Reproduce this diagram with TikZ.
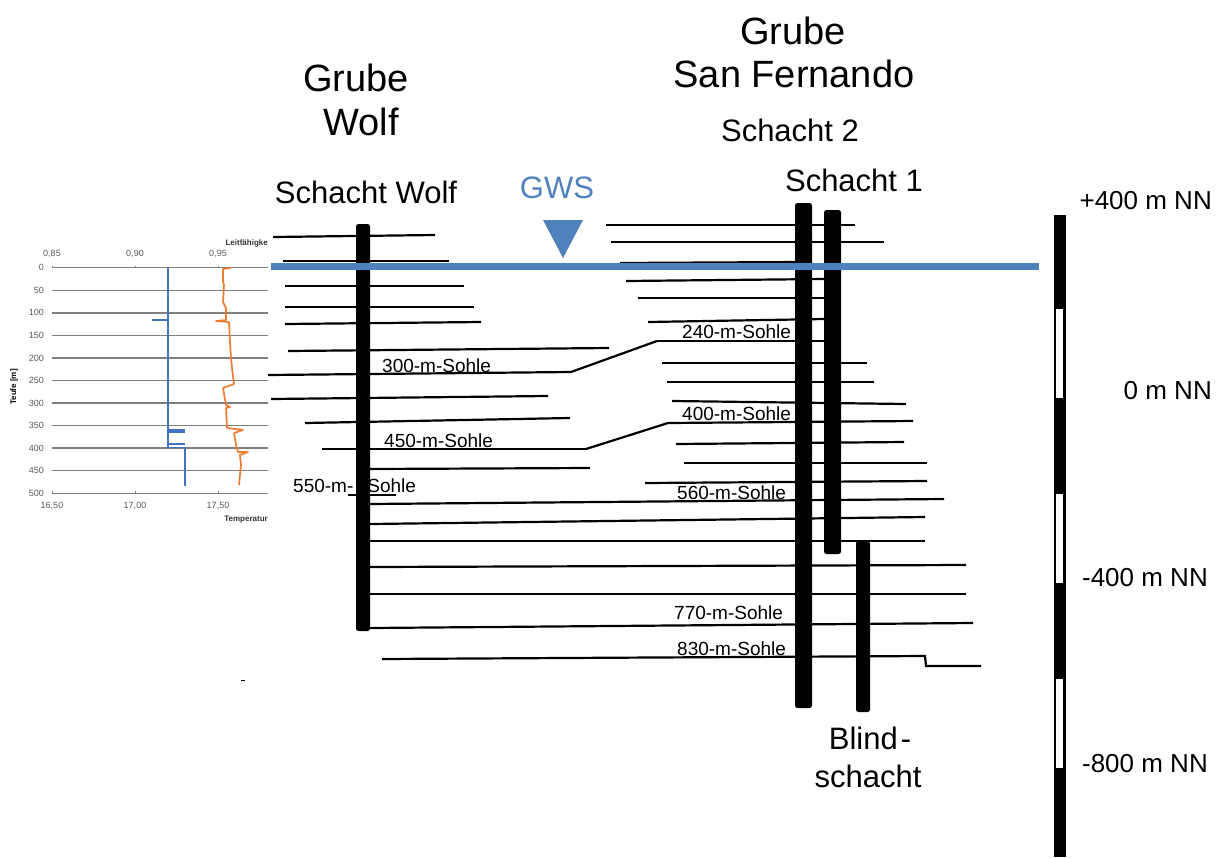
\documentclass[tikz,border=0pt]{standalone}
\usepackage{fontspec}
\setmainfont{Liberation Sans}
\usepackage{tikz}
\definecolor{gwsblue}{HTML}{4F81BD}
\definecolor{logblue}{HTML}{4472C4}
\definecolor{logorange}{HTML}{ED7D31}
\definecolor{loggray}{HTML}{7F7F7F}
\definecolor{logtext}{HTML}{595959}
\tikzset{
	sohle/.style={line width=2.2pt,black},
	shaft/.style={fill=black,rounded corners=2.5pt},
	titlelabel/.style={anchor=base,inner sep=0pt,font=\fontsize{38}{38}\selectfont},
	shaftlabel/.style={anchor=base,inner sep=0pt,font=\fontsize{31}{31}\selectfont},
	levellabel/.style={anchor=base west,inner sep=0pt,font=\fontsize{19}{19}\selectfont},
	heightlabel/.style={anchor=base east,inner sep=0pt,font=\fontsize{26}{26}\selectfont},
	loglabel/.style={anchor=center,inner sep=0pt,text=logtext,font=\fontsize{9}{9}\selectfont},
	logtitle/.style={anchor=base east,inner sep=0pt,text=black!80,font=\bfseries\fontsize{8}{8}\selectfont},
	loggrid/.style={line width=1.4pt,loggray},
}
\begin{document}
\begin{tikzpicture}[x=1pt,y=-1pt]
	\useasboundingbox (0,0) rectangle (1222,857);
	\foreach \i in {0,...,10} {
		\draw[loggrid] (52,267.7+22.56*\i) -- (268,267.7+22.56*\i);
		\node[loglabel,anchor=east] (depth\i) at (44,267.7+22.56*\i) {\pgfmathparse{int(50*\i)}\pgfmathresult};
	}
	\foreach \px/\topval/\botval in {52/0{,}85/16{,}50,135/0{,}90/17{,}00,218/0{,}95/17{,}50} {
		\draw[loggray,line width=1pt] (\px,265.5) -- (\px,267.7) (\px,493.3) -- (\px,491);
		\node[loglabel] (top\px) at (\px,254) {\topval};
		\node[loglabel] (bot\px) at (\px,506) {\botval};
	}
	\node[logtitle] (leitf) at (268,245) {Leitfähigke};
	\node[logtitle] (temp) at (268,521) {Temperatur};
	\node[loglabel,rotate=90,text=black,font=\bfseries\fontsize{8}{8}\selectfont] (teufe) at (14,387) {Teufe [m]};
	\draw[logblue,line width=1.5pt] (168,267) -- (168,320) -- (152,320) -- (168,320) -- (168,447.7) -- (185,447.7) -- (185,486);
	\draw[logblue,line width=3.6pt] (168,431) -- (185,431);
	\draw[logblue,line width=1.5pt] (168,444) -- (185,444);
	\draw[logorange,line width=1.7pt,line join=round] (231,268) -- (223,269) -- (223,282) -- (224,285) -- (223,302) -- (226,308) -- (226,320) -- (216,321) -- (229,322) -- (230,342) -- (231,358) -- (232,368) -- (234,384) -- (223,388) -- (226,405) -- (230,407) -- (226,408) -- (227,428) -- (243,430) -- (234,433) -- (236,445) -- (238,452) -- (248,452) -- (240,455) -- (241,465) -- (239,485);

	\foreach \xa/\ya/\xb/\yb in {
		273/237/435/235,283/261/449/261,285/286/464/286,285/307/474/307,285/324/481/322,
		288/351/609/348,268/375/571/372,271/399/548/396,305/423/570/418,322/449/586/449,
		370/469/590/468,348/495/396/495,370/504/944/499,370/524/925/517,370/541/925/541,
		370/567/966/565,370/594/966/594,370/628/973/623,
		606/225/855/225,611/242/884/242,626/281/825/279,638/298/825/298,648/322/825/319,
		657/341/825/341,662/363/867/363,667/382/874/382,672/401/906/404,668/423/913/421,
		676/444/904/442,684/463/927/463,645/483/927/481
	} {
		\draw[sohle] (\xa,\ya) -- (\xb,\yb);
	}
	\draw[sohle] (571,372) -- (657,341);
	\draw[sohle] (586,449) -- (668,423);
	\draw[sohle] (382,659) -- (925,656) -- (926,666) -- (981,666);
	\draw[sohle] (620,263) -- (800,262);

	\node[levellabel] (sohle300) at (382,372) {300-m-Sohle};
	\node[levellabel] (sohle450) at (384,447) {450-m-Sohle};
	\node[levellabel] (sohle550) at (293,492) {550-m-\hspace{14pt}Sohle};
	\node[levellabel] (sohle240) at (682,338) {240-m-Sohle};
	\node[levellabel] (sohle400) at (682,420) {400-m-Sohle};
	\node[levellabel] (sohle560) at (677,499) {560-m-Sohle};
	\node[levellabel] (sohle770) at (674,619) {770-m-Sohle};
	\node[levellabel] (sohle830) at (677,655) {830-m-Sohle};

	\foreach \xa/\ya/\xb/\yb in {356/224/370/631,795/203/812/708,824/210/841/554,856/541/870/712} {
		\fill[shaft] (\xa,\ya) rectangle (\xb,\yb);
	}
	\fill[gwsblue] (271,263) rectangle (1039,270);
	\fill[gwsblue] (543,220) -- (583,220) -- (563,258) -- cycle;

	\fill[black] (1054,215) rectangle (1066,857);
	\foreach \ya/\yb in {309/398,494/583,679/768} {
		\fill[white] (1056,\ya) rectangle (1063,\yb);
	}
	\fill[black] (241,679.5) rectangle (245,681);

	\node[titlelabel] (wolfa) at (356,91) {Grube};
	\node[titlelabel] (wolfb) at (361,135) {Wolf};
	\node[titlelabel] (fernandoa) at (793,44) {Grube};
	\node[titlelabel] (fernandob) at (794,87) {San Fernando};
	\node[shaftlabel] (schacht2) at (790,141) {Schacht 2};
	\node[shaftlabel] (schacht1) at (854,191) {Schacht 1};
	\node[shaftlabel] (schachtwolf) at (366,203) {Schacht Wolf};
	\node[shaftlabel,text=gwsblue] (gws) at (557,198) {GWS};
	\node[shaftlabel] (blinda) at (870,749) {Blind\hspace{3pt}-};
	\node[shaftlabel] (blindb) at (868,787) {schacht};

	\node[heightlabel] (nn400) at (1212,209) {+400 m NN};
	\node[heightlabel] (nn0) at (1212,399) {0 m NN};
	\node[heightlabel] (nnm400) at (1208,586) {-400 m NN};
	\node[heightlabel] (nnm800) at (1208,772) {-800 m NN};
\end{tikzpicture}
\end{document}
